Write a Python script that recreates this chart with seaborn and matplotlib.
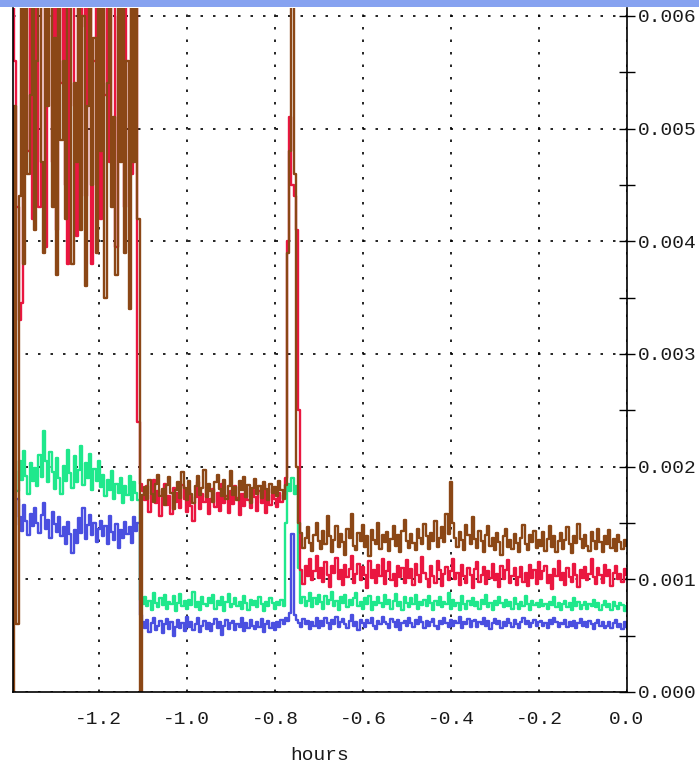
import numpy as np
import pandas as pd
import matplotlib
matplotlib.use("Agg")
import matplotlib.pyplot as plt
from matplotlib.patches import Rectangle
from matplotlib.ticker import MultipleLocator, FormatStrFormatter, FixedLocator
import seaborn as sns

# Sampling grid: one reading every 0.005 h, ending at t = 0
t_start = -1.395
t_end = 0.0

# Readings in units of 1e-5 (ten per row)
brown_vals = [
    0, 520, 60, 440, 610, 380, 700, 460, 530, 700,
    410, 560, 700, 470, 390, 620, 520, 700, 430, 580,
    370, 700, 490, 560, 420, 660, 700, 380, 540, 470,
    700, 410, 600, 360, 520, 700, 450, 580, 390, 700,
    480, 620, 350, 540, 700, 430, 510, 370, 660, 470,
    700, 390, 560, 340, 620, 470, 700, 420, 0, 175,
    182, 171, 188, 176, 169, 185, 193, 174, 180, 166,
    184, 191, 177, 162, 179, 186, 172, 195, 181, 170,
    187, 176, 168, 183, 192, 175, 181, 197, 173, 185,
    178, 169, 186, 193, 180, 174, 188, 171, 183, 196,
    175, 182, 170, 187, 179, 191, 173, 184, 168, 181,
    189, 176, 183, 172, 186, 180, 170, 185, 177, 182,
    174, 187, 179, 171, 184, 390, 480, 720, 460, 200,
    150, 141, 128, 137, 146, 132, 125, 139, 150, 134,
    127, 143, 131, 156, 138, 124, 135, 147, 129, 140,
    133, 122, 145, 137, 158, 130, 126, 141, 134, 148,
    129, 138, 121, 144, 135, 131, 150, 127, 139, 133,
    142, 125, 136, 147, 130, 139, 124, 143, 153, 134,
    128, 140, 132, 126, 145, 137, 131, 149, 138, 127,
    141, 134, 152, 129, 137, 146, 133, 158, 140, 186,
    150, 137, 129, 142, 135, 126, 148, 139, 131, 155,
    136, 128, 143, 134, 124, 139, 147, 130, 137, 126,
    141, 133, 122, 138, 145, 129, 135, 127, 140, 132,
    124, 137, 148, 131, 126, 139, 133, 143, 128, 135,
    130, 142, 125, 136, 147, 129, 138, 124, 134, 141,
    127, 135, 146, 131, 123, 138, 132, 149, 136, 128,
    139, 130, 125, 142, 134, 127, 145, 133, 124, 138,
    131, 144, 128, 136, 125, 139, 133, 127, 135, 130,
]

red_vals = [
    700, 560, 430, 330, 345, 610, 700, 480, 660, 420,
    700, 560, 430, 700, 610, 395, 650, 700, 470, 620,
    410, 700, 540, 700, 450, 380, 640, 700, 520, 405,
    680, 590, 700, 440, 610, 700, 380, 560, 700, 650,
    420, 700, 530, 690, 470, 640, 700, 395, 600, 700,
    560, 430, 700, 620, 460, 560, 700, 240, 185, 178,
    170, 183, 160, 175, 188, 168, 178, 156, 172, 185,
    166, 174, 158, 181, 169, 177, 163, 184, 171, 160,
    179, 165, 152, 173, 186, 162, 176, 169, 182, 158,
    171, 180, 164, 177, 161, 185, 168, 174, 159, 178,
    167, 183, 172, 157, 176, 165, 181, 170, 163, 179,
    173, 161, 178, 168, 184, 159, 175, 166, 180, 171,
    164, 177, 169, 175, 190, 400, 510, 450, 440, 410,
    250, 108, 96, 112, 103, 118, 99, 107, 121, 101,
    110, 98, 115, 104, 93, 112, 106, 119, 100, 108,
    95, 113, 102, 109, 121, 97, 105, 114, 99, 111,
    104, 92, 116, 101, 108, 97, 113, 103, 118, 96,
    107, 115, 99, 105, 94, 112, 102, 110, 97, 117,
    101, 109, 95, 114, 104, 98, 120, 106, 100, 93,
    112, 103, 97, 116, 108, 94, 105, 111, 99, 107,
    118, 100, 106, 95, 113, 103, 97, 110, 104, 92,
    109, 115, 98, 104, 111, 96, 107, 101, 114, 99,
    105, 93, 112, 100, 108, 117, 97, 103, 110, 95,
    102, 111, 98, 106, 94, 113, 101, 108, 96, 115,
    100, 107, 112, 97, 104, 91, 109, 103, 116, 99,
    106, 95, 110, 102, 98, 114, 104, 93, 108, 101,
    111, 99, 105, 118, 102, 96, 110, 104, 97, 113,
    103, 108, 94, 106, 112, 100, 105, 98, 109, 104,
]

green_vals = [
    182, 196, 178, 205, 188, 214, 192, 176, 203, 187,
    199, 183, 210, 191, 232, 205, 186, 213, 195, 180,
    208, 190, 176, 201, 187, 215, 194, 181, 209, 186,
    197, 218, 184, 203, 190, 211, 179, 198, 187, 205,
    182, 193, 174, 188, 179, 196, 171, 185, 177, 190,
    168, 183, 175, 192, 170, 186, 177, 170, 82, 78,
    84, 76, 81, 73, 88, 79, 75, 83, 77, 86,
    74, 80, 78, 85, 72, 79, 87, 76, 81, 74,
    82, 77, 89, 75, 80, 73, 84, 78, 76, 83,
    79, 86, 74, 81, 77, 84, 72, 80, 87, 75,
    78, 83, 76, 80, 74, 85, 79, 73, 82, 77,
    81, 75, 84, 78, 72, 80, 76, 83, 79, 74,
    80, 77, 82, 76, 150, 185, 178, 190, 176, 183,
    110, 79, 84, 76, 81, 88, 75, 83, 78, 86,
    80, 74, 85, 78, 82, 89, 76, 81, 73, 84,
    79, 86, 75, 82, 77, 83, 88, 76, 80, 74,
    83, 78, 85, 73, 80, 77, 84, 79, 75, 86,
    78, 82, 74, 81, 87, 76, 80, 73, 84, 79,
    75, 83, 78, 86, 74, 80, 77, 82, 76, 85,
    79, 73, 81, 77, 84, 75, 80, 78, 88, 74,
    82, 76, 79, 73, 85, 78, 74, 81, 77, 83,
    76, 80, 74, 82, 78, 86, 75, 79, 73, 81,
    77, 84, 79, 75, 82, 76, 80, 74, 83, 78,
    74, 80, 76, 85, 78, 73, 81, 77, 79, 75,
    82, 76, 78, 74, 80, 77, 84, 75, 79, 73,
    78, 81, 75, 79, 73, 83, 76, 80, 74, 77,
    80, 74, 78, 76, 82, 75, 79, 73, 77, 81,
    75, 78, 73, 80, 76, 74, 79, 77, 72, 76,
]

blue_vals = [
    160, 148, 171, 155, 143, 166, 152, 139, 158, 147,
    163, 150, 141, 157, 168, 145, 153, 137, 160, 149,
    142, 155, 138, 146, 131, 151, 140, 123, 144, 132,
    154, 141, 163, 136, 148, 157, 139, 150, 133, 145,
    152, 138, 147, 131, 156, 142, 135, 149, 128, 144,
    137, 151, 140, 146, 132, 155, 143, 150, 68, 62,
    57, 64, 53, 61, 66, 55, 59, 63, 52, 60,
    65, 56, 62, 50, 58, 64, 57, 61, 54, 67,
    58, 62, 55, 60, 66, 53, 59, 63, 56, 61,
    54, 60, 65, 57, 62, 51, 59, 64, 56, 61,
    63, 55, 60, 58, 66, 54, 61, 57, 64, 59,
    56, 62, 58, 65, 53, 60, 63, 57, 61, 55,
    62, 58, 64, 60, 66, 63, 70, 140, 68, 64,
    61, 58, 65, 60, 63, 56, 62, 59, 66, 57,
    63, 59, 66, 61, 56, 64, 60, 67, 58, 62,
    65, 60, 57, 63, 68, 59, 62, 55, 64, 61,
    58, 64, 61, 66, 59, 56, 63, 60, 67, 62,
    60, 57, 65, 62, 58, 64, 55, 61, 63, 59,
    66, 61, 58, 64, 60, 67, 62, 57, 63, 59,
    62, 65, 59, 56, 63, 60, 66, 61, 58, 64,
    59, 63, 61, 67, 57, 62, 60, 65, 58, 63,
    64, 58, 62, 60, 66, 59, 63, 56, 61, 65,
    60, 63, 57, 62, 59, 65, 61, 58, 64, 60,
    57, 62, 66, 60, 63, 58, 61, 64, 59, 62,
    63, 59, 61, 57, 64, 60, 66, 62, 58, 61,
    60, 64, 58, 62, 59, 63, 57, 61, 65, 59,
    62, 58, 63, 60, 56, 61, 64, 59, 62, 57,
    59, 62, 57, 61, 64, 58, 60, 56, 62, 58,
]

series_names = ["blue", "green", "red", "brown"]
series_colors = ["#4a4fe0", "#1fe88c", "#ea1640", "#8b4716"]

x_ticks = [-1.2, -1.0, -0.8, -0.6, -0.4, -0.2, 0.0]
y_ticks = [0.000, 0.001, 0.002, 0.003, 0.004, 0.005, 0.006]

n = len(brown_vals)
hours = np.linspace(t_start, t_end, n)
frames = []
for name, vals in zip(series_names, [blue_vals, green_vals, red_vals, brown_vals]):
    frames.append(pd.DataFrame({"hours": hours,
                                "value": np.asarray(vals, dtype=float) * 1e-5,
                                "series": name}))
df = pd.concat(frames, ignore_index=True)

sns.set_style("white")
plt.rcParams["font.family"] = ["Liberation Mono", "DejaVu Sans Mono"]
plt.rcParams["axes.unicode_minus"] = False

W, H = 699, 763
fig = plt.figure(figsize=(W / 100, H / 100), dpi=100)
ax = fig.add_axes([13 / W, 1 - 692 / H, (627 - 13) / W, (692 - 8) / H])

sns.lineplot(data=df, x="hours", y="value", hue="series",
             hue_order=series_names, palette=series_colors,
             estimator=None, sort=False, legend=False,
             linewidth=1.7, drawstyle="steps-mid", ax=ax)

ax.set_xlim(t_start, t_end)
ax.set_ylim(0, 0.00607)

ax.xaxis.set_major_locator(FixedLocator(x_ticks))
ax.xaxis.set_minor_locator(MultipleLocator(0.1))
ax.xaxis.set_major_formatter(FormatStrFormatter("%.1f"))
ax.yaxis.set_major_locator(FixedLocator(y_ticks))
ax.yaxis.set_minor_locator(MultipleLocator(0.0005))
ax.yaxis.set_major_formatter(FormatStrFormatter("%.3f"))
ax.yaxis.tick_right()

ax.tick_params(which="both", direction="inout", length=11, width=1.0,
               color="black", labelsize=14, labelcolor="#1a1a1a")
ax.tick_params(axis="x", which="major", pad=8)
ax.tick_params(axis="y", which="major", pad=2)

ax.grid(which="major", color="black", linestyle=(0, (1.5, 6)), linewidth=1.2)
ax.set_axisbelow(True)

ax.spines["top"].set_visible(False)
for side in ["left", "right", "bottom"]:
    ax.spines[side].set_visible(True)
    ax.spines[side].set_color("black")
    ax.spines[side].set_linewidth(1.2)

ax.set_xlabel("hours", fontsize=14, color="#1a1a1a", labelpad=14)
ax.set_ylabel("")

# window strip across the top edge
fig.patches.append(Rectangle((0, 1 - 7 / H), 1, 7 / H, transform=fig.transFigure,
                             facecolor="#86a2f0", edgecolor="none", zorder=10))

fig.savefig("out.png", dpi=100, facecolor="white")
